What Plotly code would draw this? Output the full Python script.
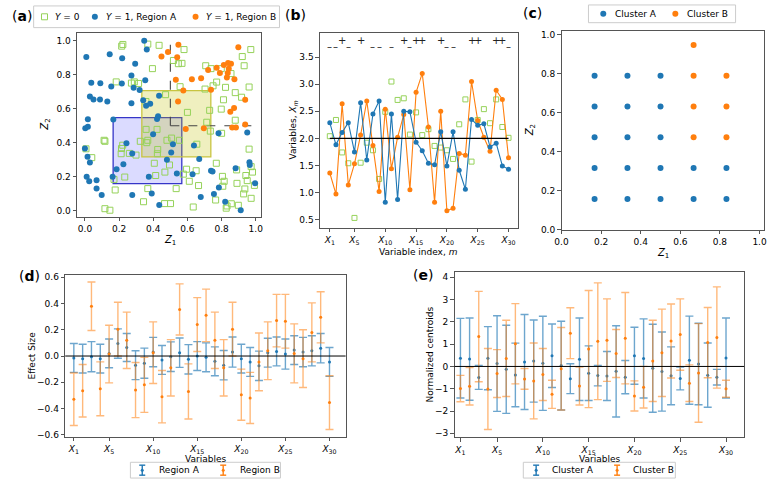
import plotly.graph_objects as go

W, H = 782, 487
BLUE = "#1f77b4"
ORANGE = "#ff7f0e"
GREEN = "#96d25a"
FONT = "DejaVu Sans"

# ---------------- data: panel (a) ----------------
a_y0_points = [
    (0.215, 0.968), (0.222, 0.978), (0.368, 0.98), (0.434, 0.973), (0.395, 0.836),
    (0.183, 0.758), (0.272, 0.751), (0.289, 0.758), (0.314, 0.749), (0.472, 0.683),
    (0.357, 0.643), (0.58, 0.948), (0.518, 0.884), (0.547, 0.865), (0.568, 0.867),
    (0.971, 0.948), (0.921, 0.907), (0.932, 0.853), (0.707, 0.853), (0.738, 0.836),
    (0.798, 0.836), (0.855, 0.807), (0.771, 0.757), (0.75, 0.735), (0.823, 0.726),
    (0.961, 0.728), (0.557, 0.73), (0.703, 0.716), (0.88, 0.695), (0.917, 0.668),
    (0.811, 0.653), (0.73, 0.591), (0.798, 0.598), (0.6, 0.579), (0.88, 0.533),
    (0.713, 0.521), (0.112, 0.415), (0.117, 0.409), (0.04, 0.313), (0.006, 0.365),
    (0.221, 0.386), (0.214, 0.367), (0.212, 0.336), (0.26, 0.338), (0.299, 0.328),
    (0.324, 0.409), (0.368, 0.415), (0.358, 0.479), (0.422, 0.479), (0.362, 0.401),
    (0.424, 0.336), (0.406, 0.28), (0.48, 0.415), (0.468, 0.228), (0.414, 0.208),
    (0.233, 0.199), (0.177, 0.123), (0.368, 0.131), (0.343, 0.054), (0.466, 0.043),
    (0.501, 0.043), (0.117, 0.013), (0.146, 0.004), (0.426, 0.361), (0.17, 0.185),
    (0.507, 0.428), (0.553, 0.415), (0.734, 0.469), (0.8, 0.456), (0.961, 0.363),
    (0.655, 0.392), (0.495, 0.27), (0.769, 0.28), (0.595, 0.245), (0.651, 0.236),
    (0.576, 0.216), (0.611, 0.174), (0.665, 0.149), (0.534, 0.131), (0.805, 0.203),
    (0.815, 0.174), (0.807, 0.145), (0.888, 0.241), (0.89, 0.162), (0.942, 0.208),
    (0.973, 0.26), (0.981, 0.228), (0.992, 0.15), (0.95, 0.178), (0.936, 0.129),
    (0.929, 0.1), (0.973, 0.074), (0.765, 0.064), (0.832, 0.029), (0.857, 0.042),
    (0.898, 0.033), (0.827, 0.016), (0.634, 0.023),
]
a_regA_points = [
    (0.347, 1.0), (0.362, 0.948), (0.145, 0.921), (0.008, 0.905), (0.218, 0.897),
    (0.294, 0.864), (0.272, 0.796), (0.353, 0.768), (0.037, 0.753), (0.09, 0.75),
    (0.154, 0.731), (0.216, 0.749), (0.285, 0.724), (0.32, 0.71), (0.029, 0.672),
    (0.05, 0.654), (0.088, 0.654), (0.131, 0.643), (0.272, 0.633), (0.341, 0.65),
    (0.358, 0.618), (0.382, 0.629), (0.434, 0.676), (0.017, 0.538), (0.166, 0.537),
    (0.422, 0.54), (0.428, 0.556), (0.002, 0.486), (0.017, 0.494), (0.0, 0.367),
    (0.015, 0.318), (0.029, 0.285), (0.243, 0.398), (0.277, 0.338), (0.225, 0.274),
    (0.185, 0.245), (0.162, 0.2), (0.01, 0.2), (0.025, 0.174), (0.068, 0.18),
    (0.068, 0.131), (0.098, 0.093), (0.277, 0.093), (0.374, 0.2), (0.391, 0.102),
    (0.435, 0.035), (0.399, 0.45), (0.48, 0.30), (0.515, 0.392), (0.538, 0.22),
    (0.505, 0.343), (0.638, 0.384), (0.669, 0.305), (0.63, 0.216), (0.738, 0.236),
    (0.747, 0.232), (0.782, 0.457), (0.95, 0.461), (0.882, 0.251), (0.965, 0.27),
    (0.963, 0.286), (0.996, 0.162), (0.784, 0.137), (0.755, 0.1), (0.678, 0.081),
    (0.821, 0.054), (0.912, 0.004),
]
a_regB_points = [
    (0.448, 0.907), (0.486, 0.934), (0.547, 0.977), (0.54, 0.903), (0.898, 0.961),
    (0.721, 0.828), (0.771, 0.841), (0.79, 0.811), (0.813, 0.857), (0.838, 0.869),
    (0.855, 0.865), (0.842, 0.836), (0.836, 0.811), (0.831, 0.784), (0.875, 0.774),
    (0.532, 0.77), (0.626, 0.774), (0.68, 0.78), (0.576, 0.708), (0.738, 0.712),
    (0.938, 0.653), (0.545, 0.643), (0.873, 0.604), (0.851, 0.583), (0.938, 0.508),
    (0.59, 0.482), (0.696, 0.486), (0.862, 0.49), (0.884, 0.49),
]
# regions: (z1_min, z1_max, z2_min, z2_max)
a_region_A = (0.165, 0.567, 0.16, 0.548)
a_region_B = (0.333, 0.737, 0.317, 0.707)
a_threshold = 0.5
a_legend_labels = ["<i>Y</i> = 0", "<i>Y</i> = 1, Region A", "<i>Y</i> = 1, Region B"]

# ---------------- data: panel (b) ----------------
b_index = list(range(1, 31))
b_regA = [2.29, 1.88, 2.11, 2.29, 1.75, 2.66, 1.60, 2.45, 2.69, 0.82, 2.45, 0.87, 2.50, 2.49, 1.93,
          1.77, 1.54, 1.51, 2.12, 1.49, 2.12, 1.41, 1.06, 2.35, 2.24, 2.27, 1.84, 1.91, 1.49, 1.43]
b_regB = [1.36, 0.97, 2.64, 1.14, 1.53, 2.06, 2.69, 1.87, 1.02, 2.54, 1.44, 2.02, 2.44, 1.05, 2.85,
          3.20, 2.21, 0.82, 2.50, 0.66, 0.71, 1.72, 1.69, 3.05, 2.33, 2.02, 1.76, 2.89, 2.72, 1.64]
b_y0 = [2.04, 2.34, 1.74, 1.54, 0.53, 1.55, 1.92, 1.78, 1.25, 2.49, 3.05, 2.71, 2.74, 2.07, 2.48,
        2.06, 2.17, 1.86, 1.83, 1.78, 1.62, 2.26, 2.72, 1.57, 2.34, 2.54, 2.28, 2.72, 2.21, 2.01]
b_ref = 2.0
b_plus_idx = [3, 6, 13, 15, 16, 19, 24, 25, 28, 29]
b_minus_idx = [1, 2, 4, 8, 9, 11, 14, 20, 21, 30]

# ---------------- data: panel (c) ----------------
c_clA_z1 = [0.167, 0.333, 0.5] * 5 + [0.667, 0.833, 0.667, 0.833]
c_clA_z2 = [0.158] * 3 + [0.316] * 3 + [0.474] * 3 + [0.632] * 3 + [0.79] * 3 + [0.158, 0.158, 0.316, 0.316]
c_clB_z1 = [0.667, 0.833, 0.667, 0.833, 0.667, 0.833, 0.667]
c_clB_z2 = [0.474, 0.474, 0.632, 0.632, 0.79, 0.79, 0.948]
c_legend_labels = ["Cluster A", "Cluster B"]

# ---------------- data: panel (d) ----------------
var_index = list(range(1, 31))
var_ticks = [1, 5, 10, 15, 20, 25, 30]
d_A_mean = [-0.015, -0.02, -0.005, -0.02, 0.02, 0.095, 0.065, -0.07, -0.055, 0.03, -0.03, -0.005, 0.025, -0.025, 0.0,
            -0.01, -0.04, -0.07, 0.03, -0.02, -0.045, -0.075, 0.025, 0.035, 0.015, 0.045, 0.03, 0.04, 0.06, -0.045]
d_A_err = [0.11, 0.11, 0.115, 0.11, 0.11, 0.112, 0.107, 0.11, 0.115, 0.112, 0.11, 0.113, 0.112, 0.112, 0.11,
           0.11, 0.11, 0.112, 0.115, 0.11, 0.11, 0.112, 0.11, 0.11, 0.115, 0.11, 0.112, 0.115, 0.112, 0.11]
d_B_mean = [-0.33, -0.265, 0.38, -0.25, 0.015, 0.205, 0.12, -0.26, -0.22, 0.025, -0.31, -0.09, 0.355, -0.27, 0.24,
            0.31, 0.12, -0.09, 0.205, -0.295, -0.32, -0.045, 0.04, 0.27, 0.265, 0.02, -0.02, 0.18, 0.295, -0.355]
d_B_err = [0.2, 0.2, 0.185, 0.205, 0.22, 0.205, 0.215, 0.21, 0.21, 0.235, 0.2, 0.215, 0.195, 0.21, 0.205,
           0.2, 0.215, 0.215, 0.205, 0.195, 0.195, 0.22, 0.22, 0.2, 0.205, 0.225, 0.22, 0.225, 0.195, 0.205]
d_legend_labels = ["Region A", "Region B"]

# ---------------- data: panel (e) ----------------
e_A_mean = [0.37, 0.33, -0.49, 0.37, 0.13, -0.13, -0.38, 0.2, 0.24, 0.14, 0.48, 0.04, -0.55, 0.32, -0.3,
            -0.41, -0.43, -0.22, -0.48, 0.48, 0.36, -0.08, -0.23, -0.42, -0.54, 0.28, 0.11, -0.39, -0.48, 0.38]
e_A_err = [1.785, 1.845, 0.54, 1.415, 2.145, 1.975, 1.425, 2.13, 1.84, 2.11, 1.425, 1.99, 0.67, 1.85, 1.225,
           0.46, 1.1, 2.045, 0.745, 1.275, 1.775, 1.975, 1.775, 1.3, 0.51, 1.975, 1.825, 1.44, 0.35, 1.795]
e_B_mean = [-0.99, -0.89, 1.34, -1.01, -0.32, 0.36, 1.02, -0.56, -0.65, -0.36, -1.25, -0.1, 1.49, -0.88, 0.78,
            1.13, 1.18, 0.58, 1.27, -1.32, -0.93, 0.25, 0.61, 1.14, 1.43, -0.75, -0.29, 1.07, 1.3, -1.0]
e_B_err = [0.59, 0.84, 2.025, 1.815, 1.075, 1.71, 1.8, 0.465, 1.7, 1.165, 0.63, 1.85, 1.14, 0.85, 2.625,
           2.62, 1.85, 1.075, 2.05, 0.675, 0.935, 1.825, 1.96, 1.66, 1.6, 0.82, 2.21, 1.575, 2.27, 0.38]
e_legend_labels = ["Cluster A", "Cluster B"]

# ---------------- helpers ----------------
def px_x(p):
    return p / W

def px_y(p):
    return 1 - p / H

def axis(dom, rng, tickvals, ticktext=None, anchor=None):
    d = dict(domain=dom, range=rng, tickvals=tickvals, showline=True, mirror=True,
             linecolor="#555", linewidth=1, ticks="outside", ticklen=3.5, tickcolor="#555",
             tickfont=dict(size=9, color="black", family=FONT), showgrid=False,
             zeroline=False, anchor=anchor, fixedrange=True)
    if ticktext is not None:
        d["ticktext"] = ticktext
    return d

def num_labels(vals, fmt="{:.1f}"):
    return [fmt.format(v).replace("-", "\u2212") for v in vals]

fig = go.Figure()
shapes = []
ann = []

def text(t, xp, yp, size=9, angle=0, anchor="center"):
    ann.append(dict(text=t, x=px_x(xp), y=px_y(yp), xref="paper", yref="paper",
                    showarrow=False, textangle=angle, xanchor=anchor, yanchor="middle",
                    font=dict(size=size, family=FONT, color="black")))

# ---- custom legend pieces (pixel-sized, paper anchored) ----
def leg_box(x0, x1, y0, y1):
    shapes.append(dict(type="rect", xref="paper", yref="paper", x0=px_x(x0), x1=px_x(x1),
                       y0=px_y(y1), y1=px_y(y0), line=dict(color="#cccccc", width=1),
                       fillcolor="white", layer="above"))

def leg_dot(cx, cy, color, r=3):
    shapes.append(dict(type="circle", xref="paper", yref="paper", xsizemode="pixel", ysizemode="pixel",
                       xanchor=px_x(cx), yanchor=px_y(cy), x0=-r, x1=r, y0=-r, y1=r,
                       fillcolor=color, line=dict(width=0), layer="above"))

def leg_square(cx, cy, color, r=3):
    shapes.append(dict(type="rect", xref="paper", yref="paper", xsizemode="pixel", ysizemode="pixel",
                       xanchor=px_x(cx), yanchor=px_y(cy), x0=-r, x1=r, y0=-r, y1=r,
                       fillcolor="white", line=dict(width=1, color=color), layer="above"))

def leg_errbar(cx, cy, color):
    def seg(x0, x1, y0, y1):
        shapes.append(dict(type="line", xref="paper", yref="paper", xsizemode="pixel", ysizemode="pixel",
                           xanchor=px_x(cx), yanchor=px_y(cy), x0=x0, x1=x1, y0=y0, y1=y1,
                           line=dict(width=1.4, color=color), layer="above"))
    seg(0, 0, -5, 5)
    seg(-3, 3, 5, 5)
    seg(-3, 3, -5, -5)
    leg_dot(cx, cy, color, r=1.5)

# ---------------- panel (a) ----------------
fig.add_trace(go.Scatter(
    x=[p[0] for p in a_y0_points], y=[p[1] for p in a_y0_points], mode="markers",
    marker=dict(symbol="square-open", size=6, color=GREEN, line=dict(width=1)),
    name=a_legend_labels[0], xaxis="x", yaxis="y", showlegend=False))
fig.add_trace(go.Scatter(
    x=[p[0] for p in a_regA_points], y=[p[1] for p in a_regA_points], mode="markers",
    marker=dict(symbol="circle", size=6, color=BLUE),
    name=a_legend_labels[1], xaxis="x", yaxis="y", showlegend=False))
fig.add_trace(go.Scatter(
    x=[p[0] for p in a_regB_points], y=[p[1] for p in a_regB_points], mode="markers",
    marker=dict(symbol="circle", size=6, color=ORANGE),
    name=a_legend_labels[2], xaxis="x", yaxis="y", showlegend=False))

shapes.append(dict(type="rect", xref="x", yref="y", x0=a_region_A[0], x1=a_region_A[1],
                   y0=a_region_A[2], y1=a_region_A[3], fillcolor="rgba(0,0,255,0.14)",
                   line=dict(color="#3535c8", width=1.3), layer="below"))
shapes.append(dict(type="rect", xref="x", yref="y", x0=a_region_B[0], x1=a_region_B[1],
                   y0=a_region_B[2], y1=a_region_B[3], fillcolor="rgba(190,190,0,0.25)",
                   line=dict(color="#c8c440", width=1.3), layer="below"))
shapes.append(dict(type="line", xref="x", yref="y", x0=a_threshold, x1=a_threshold, y0=a_threshold, y1=1.0,
                   line=dict(color="#444", width=1.1, dash="dash"), layer="below"))
shapes.append(dict(type="line", xref="x", yref="y", x0=a_threshold, x1=1.0, y0=a_threshold, y1=a_threshold,
                   line=dict(color="#444", width=1.1, dash="dash"), layer="below"))

# ---------------- panel (b) ----------------
fig.add_trace(go.Scatter(x=b_index, y=b_y0, mode="markers",
                         marker=dict(symbol="square-open", size=5, color=GREEN, line=dict(width=1)),
                         xaxis="x2", yaxis="y2", showlegend=False))
fig.add_trace(go.Scatter(x=b_index, y=b_regB, mode="lines+markers",
                         line=dict(color=ORANGE, width=1.1), marker=dict(size=5, color=ORANGE),
                         xaxis="x2", yaxis="y2", showlegend=False))
fig.add_trace(go.Scatter(x=b_index, y=b_regA, mode="lines+markers",
                         line=dict(color=BLUE, width=1.1), marker=dict(size=5, color=BLUE),
                         xaxis="x2", yaxis="y2", showlegend=False))
shapes.append(dict(type="line", xref="x2", yref="y2", x0=b_index[0], x1=b_index[-1], y0=b_ref, y1=b_ref,
                   line=dict(color="black", width=1.2)))
for i in b_plus_idx:
    ann.append(dict(text="+", x=i, y=3.81, xref="x2", yref="y2", showarrow=False,
                    font=dict(size=10, family=FONT, color="#222")))
for i in b_minus_idx:
    ann.append(dict(text="\u2013", x=i, y=3.705, xref="x2", yref="y2", showarrow=False,
                    font=dict(size=10, family=FONT, color="#222")))

# ---------------- panel (c) ----------------
fig.add_trace(go.Scatter(x=c_clA_z1, y=c_clA_z2, mode="markers", marker=dict(size=6, color=BLUE),
                         name=c_legend_labels[0], xaxis="x3", yaxis="y3", showlegend=False))
fig.add_trace(go.Scatter(x=c_clB_z1, y=c_clB_z2, mode="markers", marker=dict(size=6, color=ORANGE),
                         name=c_legend_labels[1], xaxis="x3", yaxis="y3", showlegend=False))

# ---------------- panel (d) ----------------
fig.add_trace(go.Scatter(x=var_index, y=d_A_mean, mode="markers", name=d_legend_labels[0],
                         marker=dict(size=3, color=BLUE),
                         error_y=dict(type="data", array=d_A_err, color="rgba(31,119,180,0.65)",
                                      thickness=1.4, width=4),
                         xaxis="x4", yaxis="y4", showlegend=False))
fig.add_trace(go.Scatter(x=var_index, y=d_B_mean, mode="markers", name=d_legend_labels[1],
                         marker=dict(size=3, color=ORANGE),
                         error_y=dict(type="data", array=d_B_err, color="rgba(255,127,14,0.55)",
                                      thickness=1.4, width=4),
                         xaxis="x4", yaxis="y4", showlegend=False))
shapes.append(dict(type="line", xref="x4 domain", yref="y4", x0=0, x1=1, y0=0, y1=0,
                   line=dict(color="black", width=1)))

# ---------------- panel (e) ----------------
fig.add_trace(go.Scatter(x=var_index, y=e_A_mean, mode="markers", name=e_legend_labels[0],
                         marker=dict(size=3, color=BLUE),
                         error_y=dict(type="data", array=e_A_err, color="rgba(31,119,180,0.65)",
                                      thickness=1.4, width=4),
                         xaxis="x5", yaxis="y5", showlegend=False))
fig.add_trace(go.Scatter(x=var_index, y=e_B_mean, mode="markers", name=e_legend_labels[1],
                         marker=dict(size=3, color=ORANGE),
                         error_y=dict(type="data", array=e_B_err, color="rgba(255,127,14,0.55)",
                                      thickness=1.4, width=4),
                         xaxis="x5", yaxis="y5", showlegend=False))
shapes.append(dict(type="line", xref="x5 domain", yref="y5", x0=0, x1=1, y0=0, y1=0,
                   line=dict(color="black", width=1)))

# ---------------- legends ----------------
leg_box(27, 276, 4, 26)
leg_square(38, 15, GREEN)
text(a_legend_labels[0], 47, 15, 9, anchor="left")
leg_dot(89, 15, BLUE)
text(a_legend_labels[1], 98, 15, 9, anchor="left")
leg_dot(191, 15, ORANGE)
text(a_legend_labels[2], 200, 15, 9, anchor="left")

leg_box(589, 738, 3, 21)
leg_dot(604, 12, BLUE)
text(c_legend_labels[0], 614, 12, 9, anchor="left")
leg_dot(677, 12, ORANGE)
text(c_legend_labels[1], 687, 12, 9, anchor="left")

leg_box(125, 277, 467, 483)
leg_errbar(137, 475, BLUE)
text(d_legend_labels[0], 152, 475, 9, anchor="left")
leg_errbar(219, 475, ORANGE)
text(d_legend_labels[1], 234, 475, 9, anchor="left")

leg_box(523, 677, 467, 483)
leg_errbar(536, 475, BLUE)
text(e_legend_labels[0], 550, 475, 9, anchor="left")
leg_errbar(618, 475, ORANGE)
text(e_legend_labels[1], 632, 475, 9, anchor="left")

# ---------------- axes ----------------
t01 = [0, 0.2, 0.4, 0.6, 0.8, 1.0]
var_tick_text = ["<i>X</i><sub>%d</sub>" % i for i in var_ticks]
b_yt = [0.5, 1.0, 1.5, 2.0, 2.5, 3.0, 3.5]
d_yt = [-0.6, -0.4, -0.2, 0.0, 0.2, 0.4, 0.6]
e_yt = [-3, -2, -1, 0, 1, 2, 3, 4]

dom_a = ([px_x(71), px_x(257)], [px_y(218), px_y(31)])
dom_b = ([px_x(317), px_x(518)], [px_y(229), px_y(31)])
dom_c = ([px_x(561.7), px_x(766.7)], [px_y(231), px_y(29.3)])
dom_d = ([px_x(59), px_x(343)], [px_y(441), px_y(276.7)])
dom_e = ([px_x(453.3), px_x(746.7)], [px_y(441.7), px_y(274.3)])

# panel labels and axis titles
text("(<b>a</b>)", 15, 14, 14)
text("(<b>b</b>)", 292, 13, 14)
text("(<b>c</b>)", 532, 11, 14)
text("(<b>d</b>)", 23, 278, 14)
text("(<b>e</b>)", 421, 277, 14)

text("<i>Z</i><sub>1</sub>", 165, 242, 10)
text("<i>Z</i><sub>2</sub>", 39, 125, 10, -90)
text("Variable index, <i>m</i>", 417, 254, 9)
text("Variables, <i>X</i><sub><i>m</i></sub>", 290, 130, 9, -90)
text("<i>Z</i><sub>1</sub>", 664, 255, 10)
text("<i>Z</i><sub>2</sub>", 530, 130, 10, -90)
text("Variables", 201, 464, 9)
text("Effect Size", 25, 359, 9, -90)
text("Variables", 600, 464, 9)
text("Normalized centroids", 428, 358, 9, -90)

fig.update_layout(
    width=W, height=H, margin=dict(l=0, r=0, t=0, b=0),
    paper_bgcolor="white", plot_bgcolor="white", showlegend=False,
    font=dict(family=FONT, size=9, color="black"),
    xaxis=axis(dom_a[0], [-0.046, 1.029], t01, num_labels(t01), "y"),
    yaxis=axis(dom_a[1], [-0.035, 1.048], t01, num_labels(t01), "x"),
    xaxis2=axis(dom_b[0], [-0.6, 31.6], var_ticks, var_tick_text, "y2"),
    yaxis2=axis(dom_b[1], [0.349, 3.955], b_yt, num_labels(b_yt), "x2"),
    xaxis3=axis(dom_c[0], [0, 1.022], t01, num_labels(t01), "y3"),
    yaxis3=axis(dom_c[1], [0, 1.02], t01, num_labels(t01), "x3"),
    xaxis4=axis(dom_d[0], [0.026, 31.83], var_ticks, var_tick_text, "y4"),
    yaxis4=axis(dom_d[1], [-0.615, 0.62], d_yt, num_labels(d_yt), "x4"),
    xaxis5=axis(dom_e[0], [0.353, 31.98], var_ticks, var_tick_text, "y5"),
    yaxis5=axis(dom_e[1], [-3.18, 4.22], e_yt, num_labels(e_yt, "{:d}"), "x5"),
    shapes=shapes,
    annotations=ann,
)
fig.write_html("out.html")
